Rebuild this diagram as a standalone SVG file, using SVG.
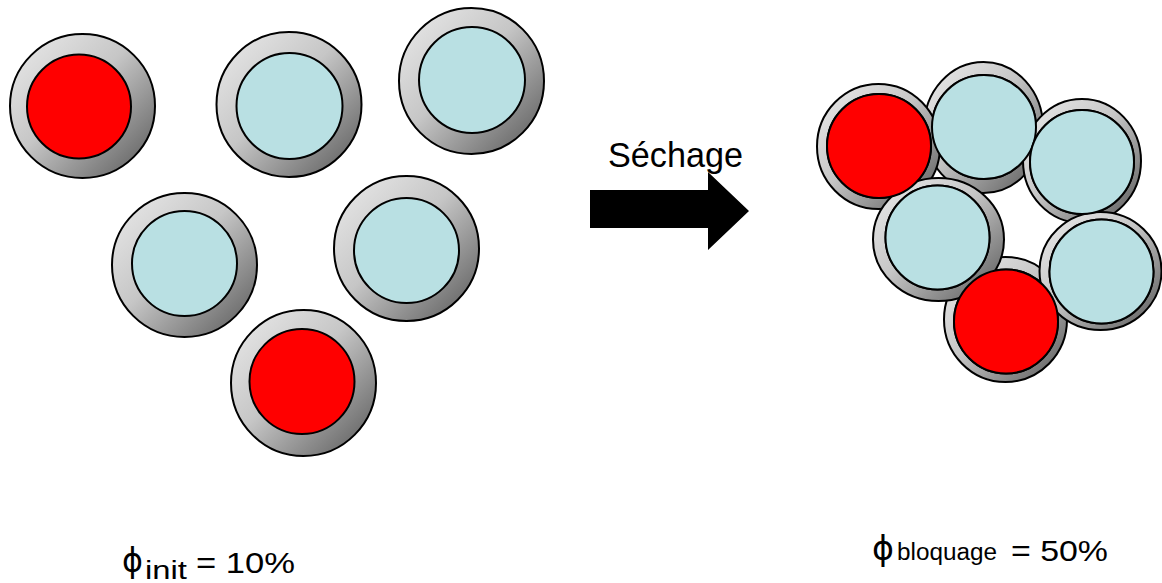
<svg xmlns="http://www.w3.org/2000/svg" width="1162" height="583" viewBox="0 0 1162 583">
  <defs>
    <linearGradient id="ring" x1="0" y1="0" x2="1" y2="1">
      <stop offset="0" stop-color="#ececec"/>
      <stop offset="0.45" stop-color="#c6c6c6"/>
      <stop offset="1" stop-color="#555555"/>
    </linearGradient>
  </defs>
  <style>
    .ring { fill: url(#ring); stroke: #000; stroke-width: 2; }
    .red { fill: #ff0000; stroke: #000; stroke-width: 2; }
    .blue { fill: #b9e0e3; stroke: #000; stroke-width: 2; }
    .txt { font-family: "Liberation Sans", Arial, sans-serif; fill: #000; }
    .phi { font-family: "DejaVu Sans", "Liberation Sans", sans-serif; fill: #000; }
  </style>
  <rect width="1162" height="583" fill="#fff"/>

  <!-- Left: dispersed particles -->
  <g id="p-left-red-top">
    <ellipse class="ring" cx="82.5" cy="106" rx="72.5" ry="72"/>
    <circle class="red" cx="79" cy="106.5" r="52"/>
  </g>
  <g id="p-left-blue-top-mid">
    <ellipse class="ring" cx="289" cy="104.5" rx="72.5" ry="72.5"/>
    <circle class="blue" cx="289.5" cy="106" r="53"/>
  </g>
  <g id="p-left-blue-top-right">
    <ellipse class="ring" cx="471.5" cy="81" rx="72.5" ry="73"/>
    <circle class="blue" cx="472" cy="80" r="53"/>
  </g>
  <g id="p-left-blue-mid-left">
    <ellipse class="ring" cx="184.5" cy="265" rx="72.5" ry="72"/>
    <circle class="blue" cx="184.5" cy="263.5" r="52.5"/>
  </g>
  <g id="p-left-blue-mid-right">
    <ellipse class="ring" cx="406.5" cy="248.5" rx="72.5" ry="72.5"/>
    <circle class="blue" cx="406.5" cy="250.5" r="52.5"/>
  </g>
  <g id="p-left-red-bottom">
    <ellipse class="ring" cx="303.5" cy="383" rx="72.5" ry="73"/>
    <circle class="red" cx="302" cy="381.5" r="52.5"/>
  </g>

  <!-- Arrow -->
  <g id="arrow">
    <polygon points="590,190 708,190 708,172 749,211 708,250 708,228 590,228" fill="#000"/>
    <text class="txt" x="608" y="167" font-size="35" textLength="135" lengthAdjust="spacingAndGlyphs">Séchage</text>
  </g>

  <!-- Right: packed cluster (shells, then cores drawn on top) -->
  <g id="p-right-blue-top">
    <ellipse class="ring" cx="983.5" cy="127.5" rx="59.5" ry="65.5"/>
    <circle id="core-blue-top" class="blue" cx="984" cy="127" r="52"/>
  </g>
  <g id="p-right-red-top">
    <ellipse class="ring" cx="878.5" cy="146.5" rx="61.5" ry="62.5"/>
    <circle id="core-red-top" class="red" cx="879" cy="146" r="52"/>
  </g>
  <g id="p-right-blue-right-top">
    <ellipse class="ring" cx="1082" cy="161" rx="59" ry="62"/>
    <circle id="core-blue-right-top" class="blue" cx="1082" cy="162" r="52"/>
  </g>
  <g id="p-right-red-bottom">
    <ellipse class="ring" cx="1005.5" cy="319.5" rx="61.5" ry="62.5"/>
    <circle id="core-red-bottom" class="red" cx="1006" cy="321.5" r="52"/>
  </g>
  <g id="p-right-blue-mid-left">
    <ellipse class="ring" cx="938.5" cy="239.5" rx="65.5" ry="61.5"/>
    <circle id="core-blue-mid-left" class="blue" cx="937.5" cy="237.5" r="52"/>
  </g>
  <g id="p-right-blue-bottom-right">
    <ellipse class="ring" cx="1100.5" cy="271" rx="61" ry="59"/>
    <circle id="core-blue-bottom-right" class="blue" cx="1101.5" cy="271.5" r="52"/>
  </g>
  <g id="cluster-cores-overlay">
    <use href="#core-blue-top"/>
    <use href="#core-red-top"/>
    <use href="#core-blue-right-top"/>
    <use href="#core-red-bottom"/>
    <use href="#core-blue-mid-left"/>
    <use href="#core-blue-bottom-right"/>
  </g>

  <!-- Labels -->
  <g id="label-init">
    <text class="phi" x="122" y="572" font-size="34" textLength="21" lengthAdjust="spacingAndGlyphs">ϕ</text>
    <text class="txt" x="145" y="579" font-size="26" textLength="42" lengthAdjust="spacingAndGlyphs">init</text>
    <text class="txt" x="196" y="573" font-size="30" textLength="99" lengthAdjust="spacingAndGlyphs">= 10%</text>
  </g>
  <g id="label-bloquage">
    <text class="phi" x="872" y="560" font-size="34" textLength="22" lengthAdjust="spacingAndGlyphs">ϕ</text>
    <text class="txt" x="897" y="560" font-size="23" textLength="100" lengthAdjust="spacingAndGlyphs">bloquage</text>
    <text class="txt" x="1011" y="561" font-size="30" textLength="97" lengthAdjust="spacingAndGlyphs">= 50%</text>
  </g>
</svg>
